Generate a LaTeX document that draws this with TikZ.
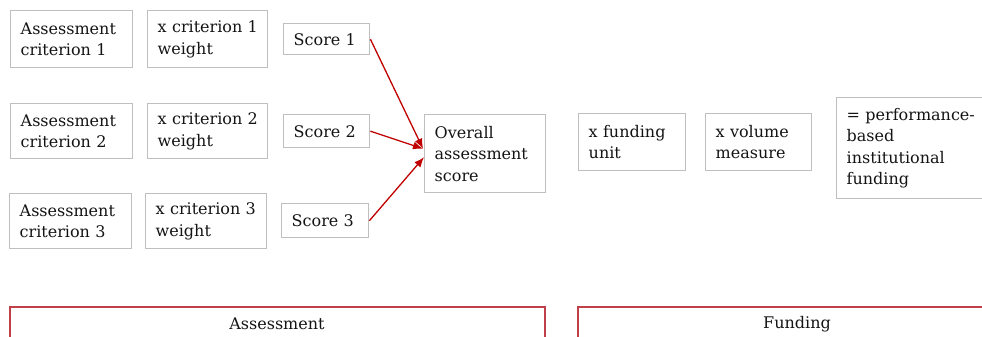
\documentclass[tikz,border=0pt]{standalone}
\usepackage{fontspec}
\setmainfont{DejaVu Serif}
\usetikzlibrary{arrows.meta,calc}
\definecolor{boxgray}{HTML}{BFBFBF}
\definecolor{arrowred}{HTML}{C00000}
\definecolor{brred}{HTML}{C0404A}
\definecolor{txt}{HTML}{141414}
\tikzset{
  box/.style={draw=boxgray, line width=1.4pt, rectangle, anchor=north west, align=left,
    inner xsep=10pt, inner ysep=0pt, text=txt, font=\fontsize{16}{21.5}\selectfont},
  arr/.style={draw=arrowred, line width=1.3pt, -{Latex[length=10pt,width=8pt]}},
  bracket/.style={draw=brred, line width=1.2pt},
  brlabel/.style={text=txt, font=\fontsize{16}{18}\selectfont, inner sep=0pt}
}
\begin{document}
\begin{tikzpicture}[x=1pt,y=1pt]
\useasboundingbox (0,0) rectangle (982,-337);
% row 1
\node[box, minimum width=122pt, minimum height=57pt, text width=102pt] (a1) at (10,-10) {Assessment\\criterion 1};
\node[box, minimum width=120pt, minimum height=57pt, text width=100pt] (w1) at (147,-10) {\mbox{x criterion 1}\\weight};
\node[box, minimum width=86pt, minimum height=31pt, text width=66pt] (s1) at (283,-23) {Score 1};
% row 2
\node[box, minimum width=122pt, minimum height=55pt, text width=102pt] (a2) at (10,-103) {Assessment\\criterion 2};
\node[box, minimum width=120pt, minimum height=55pt, text width=100pt] (w2) at (147,-103) {\mbox{x criterion 2}\\weight};
\node[box, minimum width=86pt, minimum height=33pt, text width=66pt] (s2) at (283,-114) {Score 2};
% row 3
\node[box, minimum width=122pt, minimum height=55pt, text width=102pt] (a3) at (9,-193) {Assessment\\criterion 3};
\node[box, minimum width=121pt, minimum height=55pt, text width=101pt] (w3) at (145,-193) {\mbox{x criterion 3}\\weight};
\node[box, minimum width=87pt, minimum height=34pt, text width=67pt] (s3) at (281,-203) {Score 3};
% overall
\node[box, minimum width=121pt, minimum height=78pt, text width=101pt] (ov) at (424,-114) {Overall\\assessment\\score};
% funding
\node[box, minimum width=107pt, minimum height=57pt, text width=87pt] (fu) at (578,-113) {x funding\\unit};
\node[box, minimum width=106pt, minimum height=57pt, text width=86pt] (vm) at (705,-113) {x volume\\measure};
\node[box, minimum width=150pt, minimum height=101pt, text width=130pt] (res) at (836,-97) {\mbox{= performance-}\\based\\institutional\\funding};
% arrows
\draw[arr] (s1.east) -- ($(ov.west)+(-1,5)$);
\draw[arr] (s2.east) -- ($(ov.west)+(-1,5)$);
\draw[arr] (s3.east) -- ($(ov.west)+(0,-3.5)$);
% brackets
\draw[bracket] (10,-345) -- (10,-307) -- (545,-307) -- (545,-345);
\draw[bracket] (578,-345) -- (578,-307) -- (1016,-307);
\node[brlabel] (lassess) at (277,-324) {Assessment};
\node[brlabel] (lfund) at (797,-324) {Funding};
\end{tikzpicture}
\end{document}
